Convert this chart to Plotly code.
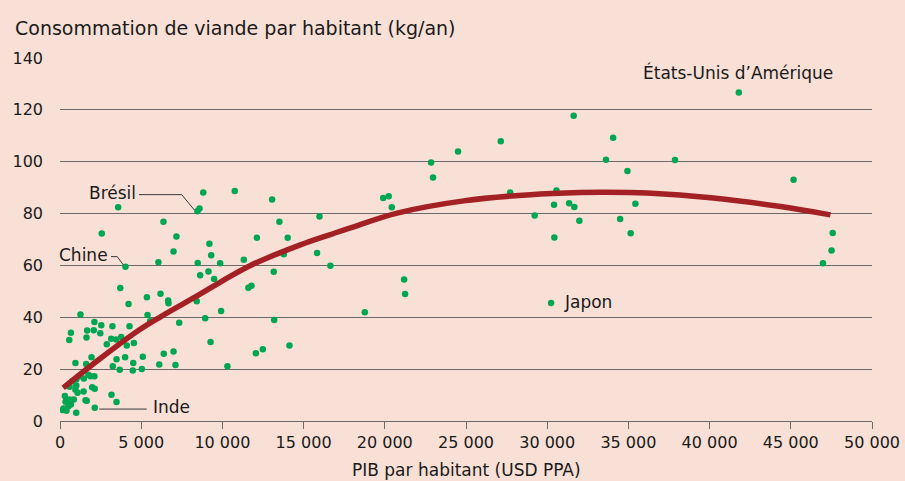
import plotly.graph_objects as go

# Scatter data: GDP per capita (USD PPP) and meat consumption (kg/yr)
gdp = [41800, 27140, 31630, 34060, 33620, 37870, 34940, 45170, 27720, 30570,
       30420, 31350, 31670, 35430, 29230, 31980, 34490, 30440, 35140, 47580,
       47510, 46980, 30240,
       24510, 22850, 22970, 19900, 20240, 20430, 16650, 21190, 21250, 18770,
       15980, 15830, 14020, 13510, 13060, 13160, 13190, 14130, 13780, 12120,
       11600, 11790, 11320, 12060, 12490, 10760, 10310, 9920, 9860, 9490,
       9310, 9270, 9200, 9140, 8940, 8820, 8630, 8590, 8460, 8480, 8420,
       7340, 7170, 7110, 6990, 6990, 6680, 6660, 6390, 6370, 6190, 6110,
       6060, 5550, 5390, 5350, 5100, 5040, 4550, 4510, 4480, 4280, 4220,
       4110, 4030, 4010, 3770, 3710, 3680, 3580, 3480, 3460, 3250, 3230,
       3150, 3170, 3480, 2880, 2570, 2540, 2480, 2120, 2080, 1670, 1630,
       1260, 670, 570, 1940, 950, 1610, 1750, 1880, 2120, 1200, 1000, 1470,
       1980, 2140, 750, 590, 1000, 950, 1080, 1450, 1570, 1650, 300, 590,
       340, 850, 670, 220, 170, 520, 1000, 400, 2140]
meat = [126.7, 107.9, 117.7, 109.2, 100.8, 100.7, 96.4, 93.0, 88.1, 88.9,
        83.4, 84.0, 82.5, 83.8, 79.3, 77.2, 77.9, 70.8, 72.4, 72.5,
        65.8, 60.8, 45.5,
        103.9, 99.7, 93.9, 86.0, 86.7, 82.4, 59.9, 54.6, 49.0, 41.9,
        78.9, 64.8, 70.7, 76.8, 85.4, 57.6, 39.0, 29.1, 64.3, 70.7,
        51.4, 52.2, 62.2, 26.1, 27.7, 88.7, 21.1, 42.4, 60.8, 54.8,
        63.9, 30.5, 68.4, 57.7, 39.6, 88.1, 56.2, 82.0, 80.9, 60.9, 46.2,
        37.9, 71.2, 21.6, 65.4, 26.8, 45.4, 46.5, 25.9, 76.8, 49.1, 21.8,
        61.2, 38.5, 40.9, 47.7, 24.8, 20.1, 30.1, 22.4, 19.5, 36.5, 45.1,
        29.1, 59.5, 24.6, 32.4, 51.3, 19.8, 82.4, 23.8, 31.4, 21.1, 36.5,
        31.7, 10.1, 7.3, 29.6, 72.3, 36.9, 33.8, 38.2, 35.0, 34.9, 32.2,
        41.1, 34.0, 31.2, 24.6, 22.4, 22.0, 17.8, 17.3, 17.3, 17.3, 16.0, 16.4,
        13.0, 12.4, 15.3, 13.2, 13.7, 12.1, 10.9, 11.4, 8.0, 7.8, 9.6, 8.3,
        7.4, 8.3, 6.4, 4.8, 4.2, 5.7, 3.2, 4.0, 5.1]

# Trend curve
trend_x = [200, 2500, 4850, 6190, 8650, 9880, 11730, 14800, 16650, 17880,
           20760, 24860, 28970, 32040, 33460, 36150, 40240, 44370, 47440]
trend_y = [12.8, 24.2, 35.0, 40.2, 49.0, 53.6, 60.0, 67.9, 71.9, 74.5,
           80.2, 84.9, 87.3, 88.1, 88.2, 87.9, 86.0, 82.7, 79.5]

x_ticks = [0, 5000, 10000, 15000, 20000, 25000, 30000, 35000, 40000, 45000, 50000]
x_tick_text = ["0", "5 000", "10 000", "15 000", "20 000", "25 000", "30 000",
               "35 000", "40 000", "45 000", "50 000"]
y_ticks = [0, 20, 40, 60, 80, 100, 120, 140]

BG = "#F8E0D6"
GRID = "#6a6a6a"
TXT = "#1a1a1a"
FONT = "DejaVu Sans"

fig = go.Figure()
fig.add_trace(go.Scatter(x=gdp, y=meat, mode="markers",
                         marker=dict(color="#00A651", size=6.5, line=dict(width=0)),
                         hoverinfo="skip", showlegend=False))
fig.add_trace(go.Scatter(x=trend_x, y=trend_y, mode="lines",
                         line=dict(color="#A32024", width=5.5, shape="spline", smoothing=1.0),
                         hoverinfo="skip", showlegend=False))

leader = dict(type="path", xref="x", yref="y", line=dict(color="#3a3a3a", width=1))
shapes = [
    dict(leader, path="M 4865 87.3 L 7494 87.3 L 8270 81.4"),   # Brésil
    dict(leader, path="M 3140 63.4 L 3528 63.4 L 3898 60.2"),   # Chine
    dict(leader, path="M 2420 4.6 L 5339 4.6"),                 # Inde
]

afont = dict(family=FONT, size=17, color=TXT)
annotations = [
    dict(text="Brésil", x=4800, y=87.9, xref="x", yref="y", xanchor="right",
         yanchor="middle", showarrow=False, font=afont),
    dict(text="Chine", x=3100, y=64.0, xref="x", yref="y", xanchor="right",
         yanchor="middle", showarrow=False, font=afont),
    dict(text="Inde", x=5580, y=5.3, xref="x", yref="y", xanchor="left",
         yanchor="middle", showarrow=False, font=afont),
    dict(text="Japon", x=30900, y=46.0, xref="x", yref="y", xanchor="left",
         yanchor="middle", showarrow=False, font=afont),
    dict(text="États-Unis d’Amérique", x=41720, y=134.3, xref="x", yref="y",
         xanchor="center", yanchor="middle", showarrow=False, font=afont),
    dict(text="Consommation de viande par habitant (kg/an)", x=-0.0575, y=1.0826,
         xref="paper", yref="paper", xanchor="left", yanchor="middle",
         showarrow=False, font=dict(family=FONT, size=19, color=TXT)),
    dict(text="PIB par habitant (USD PPA)", x=0.5, y=-0.135, xref="paper",
         yref="paper", xanchor="center", yanchor="middle", showarrow=False,
         font=dict(family=FONT, size=17, color=TXT)),
]

fig.update_layout(
    width=905, height=481,
    margin=dict(l=60, r=33, t=58, b=60, pad=0, autoexpand=False),
    paper_bgcolor=BG, plot_bgcolor=BG,
    shapes=shapes, annotations=annotations,
    font=dict(family=FONT, size=16, color=TXT),
    xaxis=dict(range=[0, 50000], tickvals=x_ticks, ticktext=x_tick_text,
               showgrid=False, zeroline=False, showline=True, linecolor=GRID,
               linewidth=1.3, ticks="outside", ticklen=7, tickwidth=1.3,
               tickcolor=GRID, automargin=False,
               tickfont=dict(family=FONT, size=16, color=TXT)),
    yaxis=dict(range=[0, 140], tickvals=y_ticks, showgrid=True, gridcolor=GRID,
               gridwidth=1.3, zeroline=False, showline=False, ticks="",
               ticklabelstandoff=16, automargin=False,
               tickfont=dict(family=FONT, size=16, color=TXT)),
)

fig.write_html("out.html",
               config={"displayModeBar": False},
               post_script="document.body.style.margin='0';"
                           "document.body.style.overflow='hidden';"
                           "document.body.style.background='" + BG + "';")
